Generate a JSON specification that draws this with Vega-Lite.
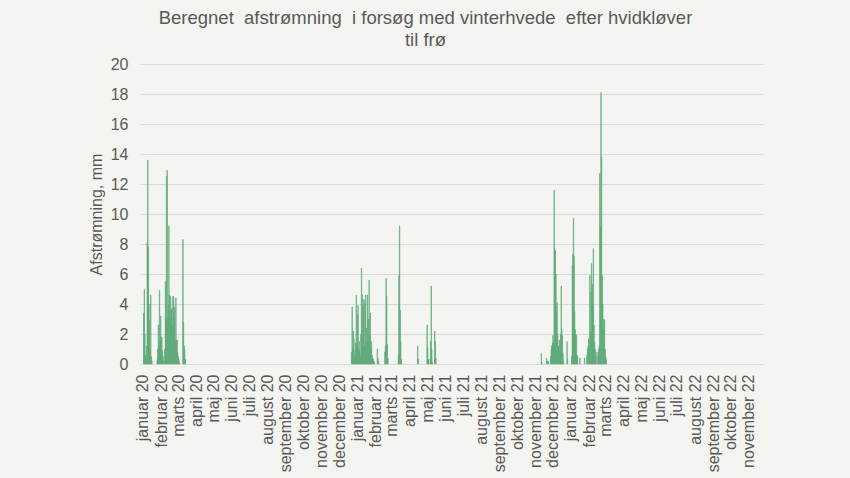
{
  "$schema": "https://vega.github.io/schema/vega-lite/v6.json",
  "autosize": {"type": "none"},
  "width": 623,
  "height": 300,
  "padding": {"left": 140, "top": 64, "right": 87, "bottom": 114},
  "title": {
    "text": ["Beregnet\u00a0 afstrømning\u00a0 i forsøg med vinterhvede\u00a0 efter hvidkløver", "til frø"],
    "fontSize": 18.5,
    "fontWeight": "normal",
    "font": "Liberation Sans",
    "color": "#595959",
    "anchor": "middle",
    "dx": -26,
    "lineHeight": 22,
    "offset": 7
  },
  "data": {
    "values": [
      {"date": "2020-01-01", "mm": 3.4}, {"date": "2020-01-02", "mm": 5.0}, {"date": "2020-01-03", "mm": 2.0}, {"date": "2020-01-04", "mm": 0.6}, {"date": "2020-01-05", "mm": 0.3}, {"date": "2020-01-06", "mm": 1.2}, {"date": "2020-01-07", "mm": 8.1}, {"date": "2020-01-08", "mm": 13.6}, {"date": "2020-01-09", "mm": 7.8}, {"date": "2020-01-10", "mm": 4.0}, {"date": "2020-01-11", "mm": 2.9}, {"date": "2020-01-12", "mm": 1.0}, {"date": "2020-01-13", "mm": 4.6}, {"date": "2020-01-14", "mm": 0.5}, {"date": "2020-01-15", "mm": 0.2},
      {"date": "2020-01-24", "mm": 0.3}, {"date": "2020-01-25", "mm": 1.0}, {"date": "2020-01-26", "mm": 2.6}, {"date": "2020-01-27", "mm": 1.2}, {"date": "2020-01-28", "mm": 4.9}, {"date": "2020-01-29", "mm": 1.5}, {"date": "2020-01-30", "mm": 3.2}, {"date": "2020-01-31", "mm": 1.8}, {"date": "2020-02-01", "mm": 1.8}, {"date": "2020-02-02", "mm": 0.9}, {"date": "2020-02-03", "mm": 0.5}, {"date": "2020-02-04", "mm": 0.2},
      {"date": "2020-02-06", "mm": 1.0}, {"date": "2020-02-07", "mm": 5.5}, {"date": "2020-02-08", "mm": 3.0}, {"date": "2020-02-09", "mm": 12.5}, {"date": "2020-02-10", "mm": 12.9}, {"date": "2020-02-11", "mm": 3.1}, {"date": "2020-02-12", "mm": 4.0}, {"date": "2020-02-13", "mm": 9.2}, {"date": "2020-02-14", "mm": 4.6}, {"date": "2020-02-15", "mm": 3.0}, {"date": "2020-02-16", "mm": 4.5}, {"date": "2020-02-17", "mm": 3.6}, {"date": "2020-02-18", "mm": 3.7}, {"date": "2020-02-19", "mm": 2.5}, {"date": "2020-02-20", "mm": 4.5}, {"date": "2020-02-21", "mm": 4.5}, {"date": "2020-02-22", "mm": 3.0}, {"date": "2020-02-23", "mm": 3.8}, {"date": "2020-02-24", "mm": 1.5}, {"date": "2020-02-25", "mm": 4.4}, {"date": "2020-02-26", "mm": 1.6}, {"date": "2020-02-27", "mm": 1.6}, {"date": "2020-02-28", "mm": 0.8}, {"date": "2020-02-29", "mm": 0.5}, {"date": "2020-03-01", "mm": 0.3}, {"date": "2020-03-02", "mm": 0.1},
      {"date": "2020-03-08", "mm": 8.3}, {"date": "2020-03-09", "mm": 2.8}, {"date": "2020-03-10", "mm": 1.2}, {"date": "2020-03-11", "mm": 1.0}, {"date": "2020-03-12", "mm": 0.3},
      {"date": "2020-12-21", "mm": 0.8}, {"date": "2020-12-22", "mm": 3.8}, {"date": "2020-12-23", "mm": 1.0}, {"date": "2020-12-24", "mm": 2.2}, {"date": "2020-12-25", "mm": 1.7}, {"date": "2020-12-26", "mm": 0.5}, {"date": "2020-12-27", "mm": 0.9}, {"date": "2020-12-28", "mm": 1.4}, {"date": "2020-12-29", "mm": 4.6}, {"date": "2020-12-30", "mm": 1.2}, {"date": "2020-12-31", "mm": 3.3},
      {"date": "2021-01-01", "mm": 3.9}, {"date": "2021-01-02", "mm": 1.0}, {"date": "2021-01-03", "mm": 1.5}, {"date": "2021-01-04", "mm": 0.8}, {"date": "2021-01-05", "mm": 0.5}, {"date": "2021-01-06", "mm": 2.0}, {"date": "2021-01-07", "mm": 6.4}, {"date": "2021-01-08", "mm": 4.6}, {"date": "2021-01-09", "mm": 1.8}, {"date": "2021-01-10", "mm": 3.9}, {"date": "2021-01-11", "mm": 4.3}, {"date": "2021-01-12", "mm": 1.2}, {"date": "2021-01-13", "mm": 4.1}, {"date": "2021-01-14", "mm": 4.6}, {"date": "2021-01-15", "mm": 1.4}, {"date": "2021-01-16", "mm": 2.4}, {"date": "2021-01-17", "mm": 4.6}, {"date": "2021-01-18", "mm": 1.5}, {"date": "2021-01-19", "mm": 3.0}, {"date": "2021-01-20", "mm": 5.6}, {"date": "2021-01-21", "mm": 2.0}, {"date": "2021-01-22", "mm": 3.4}, {"date": "2021-01-23", "mm": 1.1}, {"date": "2021-01-24", "mm": 1.5}, {"date": "2021-01-25", "mm": 0.6}, {"date": "2021-01-26", "mm": 0.4}, {"date": "2021-01-27", "mm": 0.3}, {"date": "2021-01-28", "mm": 0.2}, {"date": "2021-01-29", "mm": 0.1},
      {"date": "2021-02-03", "mm": 1.0}, {"date": "2021-02-04", "mm": 0.4}, {"date": "2021-02-05", "mm": 0.2},
      {"date": "2021-02-16", "mm": 0.8}, {"date": "2021-02-17", "mm": 1.2}, {"date": "2021-02-18", "mm": 5.7}, {"date": "2021-02-19", "mm": 4.5}, {"date": "2021-02-20", "mm": 1.3}, {"date": "2021-02-21", "mm": 0.4},
      {"date": "2021-03-11", "mm": 0.6}, {"date": "2021-03-12", "mm": 5.9}, {"date": "2021-03-13", "mm": 9.2}, {"date": "2021-03-14", "mm": 3.6}, {"date": "2021-03-15", "mm": 1.5}, {"date": "2021-03-16", "mm": 0.3},
      {"date": "2021-04-13", "mm": 1.2}, {"date": "2021-04-14", "mm": 0.3},
      {"date": "2021-04-29", "mm": 2.6}, {"date": "2021-04-30", "mm": 1.1}, {"date": "2021-05-01", "mm": 0.3}, {"date": "2021-05-02", "mm": 0.3}, {"date": "2021-05-05", "mm": 1.5}, {"date": "2021-05-06", "mm": 5.2}, {"date": "2021-05-07", "mm": 1.0}, {"date": "2021-05-08", "mm": 0.1}, {"date": "2021-05-12", "mm": 2.2}, {"date": "2021-05-13", "mm": 1.5}, {"date": "2021-05-14", "mm": 0.4},
      {"date": "2021-11-10", "mm": 0.7}, {"date": "2021-11-11", "mm": 0.1}, {"date": "2021-11-19", "mm": 0.4}, {"date": "2021-11-20", "mm": 0.2}, {"date": "2021-11-22", "mm": 0.2}, {"date": "2021-11-26", "mm": 0.5}, {"date": "2021-11-27", "mm": 1.0}, {"date": "2021-11-28", "mm": 1.2}, {"date": "2021-11-29", "mm": 1.4}, {"date": "2021-11-30", "mm": 1.9},
      {"date": "2021-12-01", "mm": 1.4}, {"date": "2021-12-02", "mm": 11.6}, {"date": "2021-12-03", "mm": 7.5}, {"date": "2021-12-04", "mm": 7.6}, {"date": "2021-12-05", "mm": 6.0}, {"date": "2021-12-06", "mm": 3.4}, {"date": "2021-12-07", "mm": 4.1}, {"date": "2021-12-08", "mm": 2.0}, {"date": "2021-12-09", "mm": 1.2}, {"date": "2021-12-10", "mm": 1.2}, {"date": "2021-12-11", "mm": 1.6}, {"date": "2021-12-12", "mm": 0.9}, {"date": "2021-12-13", "mm": 2.0}, {"date": "2021-12-14", "mm": 5.2}, {"date": "2021-12-15", "mm": 2.3}, {"date": "2021-12-16", "mm": 1.9}, {"date": "2021-12-17", "mm": 0.7}, {"date": "2021-12-18", "mm": 0.2}, {"date": "2021-12-24", "mm": 1.5}, {"date": "2021-12-25", "mm": 0.3},
      {"date": "2022-01-01", "mm": 0.5}, {"date": "2022-01-02", "mm": 6.6}, {"date": "2022-01-03", "mm": 7.3}, {"date": "2022-01-04", "mm": 9.7}, {"date": "2022-01-05", "mm": 7.2}, {"date": "2022-01-06", "mm": 3.5}, {"date": "2022-01-07", "mm": 2.3}, {"date": "2022-01-08", "mm": 2.0}, {"date": "2022-01-09", "mm": 1.9}, {"date": "2022-01-10", "mm": 0.6}, {"date": "2022-01-11", "mm": 0.5}, {"date": "2022-01-15", "mm": 0.4}, {"date": "2022-01-23", "mm": 0.4}, {"date": "2022-01-27", "mm": 0.6}, {"date": "2022-01-28", "mm": 1.0}, {"date": "2022-01-29", "mm": 1.2}, {"date": "2022-01-30", "mm": 1.7}, {"date": "2022-01-31", "mm": 1.5},
      {"date": "2022-02-01", "mm": 5.9}, {"date": "2022-02-02", "mm": 2.2}, {"date": "2022-02-03", "mm": 4.8}, {"date": "2022-02-04", "mm": 6.7}, {"date": "2022-02-05", "mm": 5.3}, {"date": "2022-02-06", "mm": 4.0}, {"date": "2022-02-07", "mm": 7.7}, {"date": "2022-02-08", "mm": 2.6}, {"date": "2022-02-09", "mm": 1.5}, {"date": "2022-02-10", "mm": 1.0}, {"date": "2022-02-11", "mm": 0.5}, {"date": "2022-02-13", "mm": 0.8}, {"date": "2022-02-15", "mm": 0.5}, {"date": "2022-02-16", "mm": 1.0}, {"date": "2022-02-17", "mm": 1.2}, {"date": "2022-02-18", "mm": 12.7}, {"date": "2022-02-19", "mm": 9.2}, {"date": "2022-02-20", "mm": 18.1}, {"date": "2022-02-21", "mm": 13.8}, {"date": "2022-02-22", "mm": 5.9}, {"date": "2022-02-23", "mm": 4.0}, {"date": "2022-02-24", "mm": 2.3}, {"date": "2022-02-25", "mm": 3.0}, {"date": "2022-02-26", "mm": 2.9}, {"date": "2022-02-27", "mm": 1.0}, {"date": "2022-02-28", "mm": 0.5}, {"date": "2022-03-01", "mm": 0.3}
    ]
  },
  "mark": {"type": "bar", "color": "#5ea97a", "stroke": "#5ea97a", "strokeWidth": 0.6},
  "encoding": {
    "x": {
      "field": "date",
      "type": "temporal",
      "timeUnit": "utcyearmonthdate",
      "scale": {"type": "utc", "domain": ["2019-12-27", "2022-11-25"]},
      "axis": {
        "title": null,
        "format": "%B %y",
        "formatType": "time",
        "tickCount": {"interval": "month", "step": 1},
        "labelAngle": -90,
        "labelOverlap": false,
        "labelFlush": false,
        "labelBound": false,
        "labelFontSize": 16,
        "labelColor": "#595959",
        "labelPadding": 10,
        "ticks": false,
        "grid": false,
        "domainColor": "#d9d9d9"
      }
    },
    "y": {
      "field": "mm",
      "type": "quantitative",
      "scale": {"domain": [0, 20]},
      "axis": {
        "title": "Afstrømning, mm",
        "values": [0, 2, 4, 6, 8, 10, 12, 14, 16, 18, 20],
        "titleFontSize": 16,
        "titleFontWeight": "normal",
        "titleColor": "#595959",
        "titlePadding": 6,
        "labelFontSize": 16,
        "labelColor": "#595959",
        "labelPadding": 12,
        "domain": false,
        "ticks": false,
        "gridColor": "#d9d9d9"
      }
    }
  },
  "config": {
    "background": "#f4f4f0",
    "font": "Liberation Sans",
    "view": {"stroke": null},
    "locale": {
      "time": {
        "dateTime": "%A den %d %B %Y %X",
        "date": "%d-%m-%Y",
        "time": "%H:%M:%S",
        "periods": ["AM", "PM"],
        "days": ["søndag", "mandag", "tirsdag", "onsdag", "torsdag", "fredag", "lørdag"],
        "shortDays": ["søn", "man", "tir", "ons", "tor", "fre", "lør"],
        "months": ["januar", "februar", "marts", "april", "maj", "juni", "juli", "august", "september", "oktober", "november", "december"],
        "shortMonths": ["jan", "feb", "mar", "apr", "maj", "jun", "jul", "aug", "sep", "okt", "nov", "dec"]
      }
    }
  }
}
